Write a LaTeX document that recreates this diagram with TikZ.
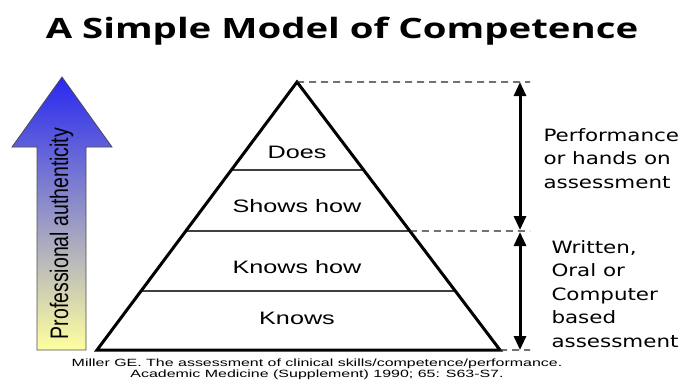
\documentclass[tikz,border=0pt]{standalone}
\usepackage{graphicx}
\usepackage{fontspec}
\setmainfont{Liberation Sans}
\newfontfamily\headfont{Open Sans}
\newfontfamily\sidefont{DejaVu Sans Condensed}
\usetikzlibrary{calc,arrows.meta}
% the slide is wide, so every text is stretched sideways
\newcommand\wide[2][1.4]{\scalebox{#1}[1]{#2}}
\definecolor{tipblue}{RGB}{40,40,240}
\definecolor{paleyellow}{RGB}{255,255,160}
\tikzset{
  level/.style={anchor=base,font=\fontsize{18}{22}\selectfont},
  side/.style={anchor=base west,font=\sidefont\fontsize{17}{23.5}\selectfont},
  span/.style={line width=3pt,<->},
  guide/.style={line width=1.2pt,black!85,dash pattern=on 7pt off 5pt},
}
\begin{document}
\begin{tikzpicture}[x=1pt,y=-1pt,line join=miter,>={Triangle[length=14pt,width=12pt]}]
	\useasboundingbox (0,0) rectangle (684,389);
	\path 
	(297,82) coordinate (A)
	(97,350) coordinate (B)
	(500,350) coordinate (C)
	($(A)!0.328!(B)$) coordinate (L1) ($(A)!0.328!(C)$) coordinate (R1)
	($(A)!0.556!(B)$) coordinate (L2) ($(A)!0.556!(C)$) coordinate (R2)
	($(A)!0.780!(B)$) coordinate (L3) ($(A)!0.780!(C)$) coordinate (R3)
	(520,82) coordinate (T)
	(520,231) coordinate (M)
	(520,350) coordinate (D)
	;
	% title
	\node[anchor=base,font=\headfont\bfseries\fontsize{28}{34}\selectfont] (title) at (342,38) {\wide[1.37]{A Simple Model of Competence}};

	% arrow on the left
	\shade[top color=tipblue,bottom color=paleyellow,draw=black!70,line width=0.8pt]
	  (62,77)--(112,147)--(86,147)--(86,350)--(37,350)--(37,147)--(12,147)--cycle;
	\node[anchor=base,rotate=90,font=\fontsize{19.5}{22}\selectfont] (auth) at (68,233.5) {\scalebox{1}[1.3]{Professional authenticity}};

	% the pyramid
	\draw[line width=1.5pt,black!75] (L1)--(R1) (L2)--(R2) (L3)--(R3);
	\draw[line width=3pt] (A)--(B)--(C)--cycle;
	\node[level] (does) at (297,158) {\wide{Does}};
	\node[level] (shows) at (297,212) {\wide{Shows how}};
	\node[level] (knowshow) at (297,273) {\wide{Knows how}};
	\node[level] (knows) at (297,324) {\wide{Knows}};

	% ranges on the right
	\draw[guide] (A)--($(T)+(10,0)$) (R2)--($(M)+(10,0)$) (C)--($(D)+(10,0)$);
	\draw[span] (T)--($(M)+(0,-1)$);
	\draw[span] ($(M)+(0,1)$)--(D);
	\node[side] (perf) at (540,141) {\wide{\begin{tabular}[t]{@{}l@{}}Performance\\or hands on\\assessment\end{tabular}}};
	\node[side] (written) at (548,253) {\wide{\begin{tabular}[t]{@{}l@{}}Written,\\Oral or\\Computer\\based\\assessment\end{tabular}}};

	% reference
	\node[anchor=base,font=\fontsize{10.5}{11.5}\selectfont] (ref) at (317,366) {\wide[1.52]{\begin{tabular}[t]{@{}c@{}}Miller GE. The assessment of clinical skills/competence/performance.\\Academic Medicine (Supplement) 1990; 65: S63-S7.\end{tabular}}};
\end{tikzpicture}
\end{document}
